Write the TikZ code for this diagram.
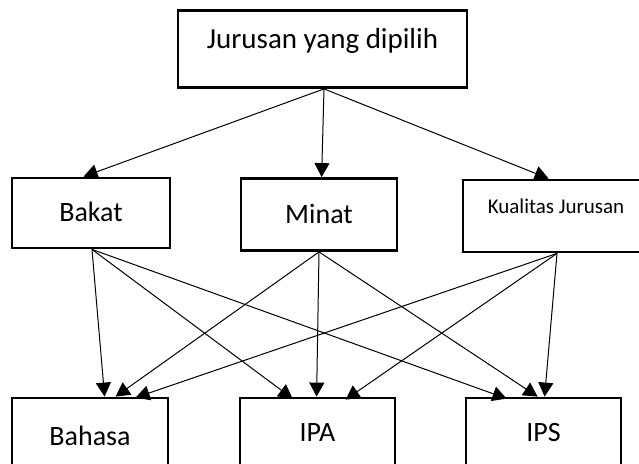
\documentclass[tikz,border=0pt]{standalone}
\usepackage{fontspec}
\setmainfont{Carlito}
\usetikzlibrary{arrows.meta}
\begin{document}
\begin{tikzpicture}[x=1pt,y=-1pt,
  box/.style={draw, line width=2.8pt, rectangle, inner sep=0pt},
  lbl/.style={inner sep=0pt, font=\fontsize{28}{32}\selectfont},
  conn/.style={line width=1pt, -{Triangle[length=14pt,width=15pt]}}]
\useasboundingbox (0,0) rectangle (639,463);
\clip (0,0) rectangle (639,463);
\fill[white] (0,0) rectangle (639,463);
% boxes
\node[box, minimum width=289pt, minimum height=77pt] (top) at (322.5,49) {};
\node[box, minimum width=158pt, minimum height=70pt] (bakat) at (91,213) {};
\node[box, minimum width=156pt, minimum height=72pt] (minat) at (319,214.5) {};
\node[box, minimum width=186pt, minimum height=72pt] (kual) at (556,216) {};
\node[box, minimum width=156pt, minimum height=90pt] (bahasa) at (90,443) {};
\node[box, minimum width=155pt, minimum height=90pt] (ipa) at (317.5,443) {};
\node[box, minimum width=155pt, minimum height=90pt] (ips) at (543.5,443) {};
% labels
\node[lbl, font=\fontsize{29}{33}\selectfont] (ttop) at (322.5,41) {Jurusan yang dipilih};
\node[lbl] (tbakat) at (91,212) {Bakat};
\node[lbl] (tminat) at (319,214) {Minat};
\node[lbl, font=\fontsize{21}{25}\selectfont] (tkual) at (556,206) {Kualitas Jurusan};
\node[lbl] (tbahasa) at (90,436) {Bahasa};
\node[lbl] (tipa) at (317.5,433) {IPA};
\node[lbl] (tips) at (543.5,433) {IPS};
% top arrows
\draw[conn] ([xshift=1.5pt]top.south) -- ([xshift=73pt]bakat.north west);
\draw[conn] ([xshift=1.5pt]top.south) -- ([xshift=82pt]minat.north west);
\draw[conn] ([xshift=1.5pt]top.south) -- ([xshift=87pt]kual.north west);
% lower arrows
\draw[conn] ([xshift=1pt]bakat.south) -- ([xshift=94pt]bahasa.north west);
\draw[conn] ([xshift=1pt]bakat.south) -- ([xshift=54pt,yshift=-2pt]ipa.north west);
\draw[conn] ([xshift=1pt]bakat.south) -- ([xshift=42pt,yshift=-2pt]ips.north west);
\draw[conn] (minat.south) -- ([xshift=105pt]bahasa.north west);
\draw[conn] (minat.south) -- ([xshift=78pt]ipa.north west);
\draw[conn] (minat.south) -- ([xshift=73pt]ips.north west);
\draw[conn] ([xshift=1pt]kual.south) -- ([xshift=125pt,yshift=-1pt]bahasa.north west);
\draw[conn] ([xshift=1pt]kual.south) -- ([xshift=107pt,yshift=-3pt]ipa.north west);
\draw[conn] ([xshift=1pt]kual.south) -- ([xshift=80pt]ips.north west);
\end{tikzpicture}
\end{document}
